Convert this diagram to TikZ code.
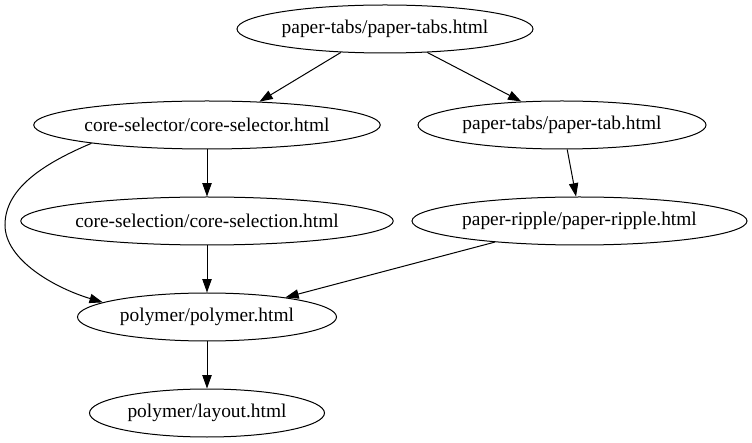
\documentclass[tikz,border=0pt]{standalone}
\usepackage{fontspec}
\setmainfont{Liberation Serif}
\usetikzlibrary{shapes.geometric,arrows.meta}
\tikzset{
  file/.style={ellipse, draw, line width=1pt, inner sep=0pt, minimum height=48pt,
    font=\fontsize{19.4}{22}\selectfont},
  dep/.style={line width=1pt, -{Triangle[length=13.3pt,width=9.3pt]}}
}
\begin{document}
\begin{tikzpicture}[x=1pt,y=1pt]
\useasboundingbox (0,0) rectangle (752,-443);
\node[file, minimum width=296pt] (pt) at (385,-29) {paper-tabs/paper-tabs.html};
\node[file, minimum width=342pt] (cs) at (207,-125) {core-selector/core-selector.html};
\node[file, minimum width=288pt] (ptab) at (562,-125) {paper-tabs/paper-tab.html};
\node[file, minimum width=362pt] (csel) at (207,-221) {core-selection/core-selection.html};
\node[file, minimum width=335pt] (pr) at (579.5,-221) {paper-ripple/paper-ripple.html};
\node[file, minimum width=259pt] (poly) at (207,-317) {polymer/polymer.html};
\node[file, minimum width=235pt] (lay) at (207,-413) {polymer/layout.html};

\draw[dep] (pt.208.7) -- (cs.24.4);
\draw[dep] (pt.331.9) -- (ptab.150.8);
\draw[dep] (ptab.282) -- (pr.98.3);
\draw[dep] (cs.south) -- (csel.north);
\draw[dep] (csel.south) -- (poly.north);
\draw[dep] (poly.south) -- (lay.north);
\draw[dep] (pr.194.4) -- (poly.14.7);
\draw[dep] (cs.189) .. controls (40,-165) and (5,-190) .. (5,-225)
  .. controls (5,-260) and (55,-288) .. (poly.172);
\end{tikzpicture}
\end{document}
